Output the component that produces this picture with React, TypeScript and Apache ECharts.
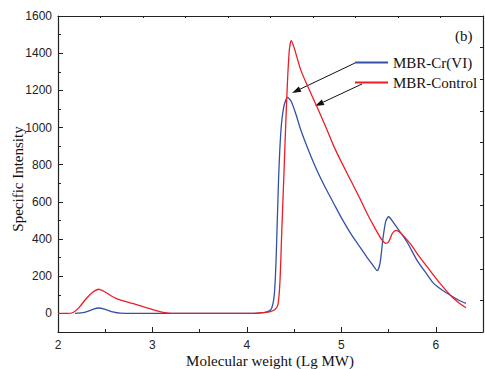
import React, { useEffect, useRef } from "react";
import * as echarts from "echarts";

const seriesNames = ["MBR-Cr(VI)", "MBR-Control"];
const xTickLabels = [2, 3, 4, 5, 6];
const yTickLabels = [0, 200, 400, 600, 800, 1000, 1200, 1400, 1600];
const yMinorTicks = [100, 300, 500, 700, 900, 1100, 1300, 1500];
const xTitle = "Molecular weight (Lg MW)";
const yTitle = "Specific Intensity";

const crData: [number, number][] = [
  [2.18, 0], [2.28, 5], [2.36, 20], [2.43, 29], [2.5, 22], [2.58, 8], [2.66, 1], [2.8, 0],
  [3.5, 0], [4.0, 0], [4.15, 3], [4.22, 10], [4.26, 25], [4.29, 100], [4.31, 300],
  [4.335, 717], [4.36, 980], [4.39, 1110], [4.43, 1162], [4.47, 1140], [4.52, 1070],
  [4.57, 988], [4.65, 880], [4.74, 771], [4.83, 677], [4.92, 591], [5.0, 515], [5.1, 429],
  [5.19, 362], [5.27, 303], [5.33, 262], [5.38, 230], [5.41, 270], [5.44, 400], [5.47, 495],
  [5.5, 520], [5.55, 490], [5.62, 440], [5.7, 380], [5.8, 287], [5.9, 215], [5.98, 160],
  [6.07, 125], [6.16, 96], [6.24, 72], [6.32, 54],
];

const controlData: [number, number][] = [
  [2.0, 0], [2.1, 0], [2.16, 5], [2.22, 30], [2.3, 80], [2.37, 115], [2.43, 130], [2.5, 115],
  [2.56, 95], [2.62, 80], [2.7, 66], [2.8, 52], [2.9, 36], [2.98, 24], [3.06, 12], [3.13, 4],
  [3.2, 0], [3.5, 0], [4.0, 0], [4.15, 3], [4.25, 10], [4.3, 22], [4.33, 50], [4.35, 170],
  [4.37, 450], [4.39, 720], [4.41, 1000], [4.43, 1250], [4.45, 1420], [4.47, 1468],
  [4.5, 1430], [4.57, 1310], [4.65, 1215], [4.73, 1125], [4.83, 1010], [4.92, 900],
  [5.0, 815], [5.1, 715], [5.19, 625], [5.27, 540], [5.36, 455], [5.43, 395], [5.47, 377],
  [5.5, 385], [5.54, 430], [5.58, 447], [5.63, 432], [5.73, 375], [5.82, 310], [5.91, 250],
  [6.0, 190], [6.09, 135], [6.17, 90], [6.25, 55], [6.32, 30],
];

const BLUE = "#3352A6";
const RED = "#EE1C25";
const AXIS = "#222";

function arrow(x1: number, y1: number, x2: number, y2: number) {
  const dx = x2 - x1;
  const dy = y2 - y1;
  const len = Math.sqrt(dx * dx + dy * dy);
  const ux = dx / len;
  const uy = dy / len;
  const hl = 9;
  const hw = 3;
  const bx = x2 - ux * hl;
  const by = y2 - uy * hl;
  return [
    {
      type: "line",
      shape: { x1, y1, x2: bx, y2: by },
      style: { stroke: "#111", lineWidth: 1 },
    },
    {
      type: "polygon",
      shape: {
        points: [
          [x2, y2],
          [bx - uy * hw, by + ux * hw],
          [bx + uy * hw, by - ux * hw],
        ],
      },
      style: { fill: "#111" },
    },
  ];
}

export default function App() {
  const ref = useRef<HTMLDivElement>(null);
  useEffect(() => {
    if (!ref.current) return;
    const chart = echarts.init(ref.current, undefined, { renderer: "svg" });
    const labelFont = {
      fontFamily: "Liberation Sans",
      fontSize: 12,
      color: AXIS,
      formatter: (v: number) => String(v),
    };
    chart.setOption({
      animation: false,
      grid: {
        left: 58,
        right: 2,
        top: 16,
        bottom: 37,
        containLabel: false,
        outerBoundsMode: "none",
      },
      legend: {
        data: seriesNames,
        orient: "vertical",
        left: 355,
        top: 54,
        itemWidth: 33,
        itemHeight: 2,
        itemGap: 3,
        icon: "rect",
        textStyle: {
          fontFamily: "Liberation Serif",
          fontSize: 15,
          color: "#111",
          lineHeight: 17,
          padding: [0, 0, 0, 0],
        },
        padding: 0,
      },
      xAxis: [
        {
          type: "value",
          position: "bottom",
          min: 2,
          max: 6.5,
          interval: 1,
          axisLine: { show: true, onZero: false, lineStyle: { color: AXIS, width: 1.2 } },
          axisTick: { show: true, inside: true, length: 5, lineStyle: { color: AXIS } },
          minorTick: { show: true, splitNumber: 2, length: 3, lineStyle: { color: AXIS } },
          axisLabel: { ...labelFont, margin: 7, customValues: xTickLabels },
          splitLine: { show: false },
        },
        {
          type: "value",
          position: "top",
          min: 0,
          max: 10,
          interval: 1,
          axisLine: { show: true, onZero: false, lineStyle: { color: AXIS, width: 1.2 } },
          axisTick: { show: true, inside: true, length: 2, lineStyle: { color: AXIS } },
          axisLabel: { show: false },
          splitLine: { show: false },
        },
      ],
      yAxis: [
        {
          type: "value",
          position: "left",
          min: -100,
          max: 1600,
          interval: 100,
          axisLine: { show: true, onZero: false, lineStyle: { color: AXIS, width: 1.2 } },
          axisTick: {
            show: true,
            inside: true,
            length: 5,
            customValues: yTickLabels,
            lineStyle: { color: AXIS },
          },
          axisLabel: { ...labelFont, margin: 6, customValues: yTickLabels },
          splitLine: { show: false },
        },
        {
          type: "value",
          position: "right",
          min: 0,
          max: 10,
          interval: 1,
          axisLine: { show: true, onZero: false, lineStyle: { color: AXIS, width: 1.2 } },
          axisTick: { show: true, inside: true, length: 3, lineStyle: { color: AXIS } },
          axisLabel: { show: false },
          splitLine: { show: false },
        },
        {
          type: "value",
          position: "left",
          min: -100,
          max: 1600,
          interval: 100,
          axisLine: { show: false },
          axisTick: {
            show: true,
            inside: true,
            length: 3,
            customValues: yMinorTicks,
            lineStyle: { color: AXIS },
          },
          axisLabel: { show: false },
          splitLine: { show: false },
        },
      ],
      series: [
        {
          name: seriesNames[0],
          type: "line",
          xAxisIndex: 0,
          yAxisIndex: 0,
          data: crData,
          showSymbol: false,
          symbol: "none",
          smooth: 0.25,
          lineStyle: { color: BLUE, width: 1.3 },
          itemStyle: { color: BLUE },
        },
        {
          name: seriesNames[1],
          type: "line",
          xAxisIndex: 0,
          yAxisIndex: 0,
          data: controlData,
          showSymbol: false,
          symbol: "none",
          smooth: 0.25,
          lineStyle: { color: RED, width: 1.3 },
          itemStyle: { color: RED },
        },
      ],
      graphic: [
        {
          type: "text",
          left: 455,
          top: 28,
          style: { text: "(b)", fontFamily: "Liberation Serif", fontSize: 15, fill: "#111" },
        },
        {
          type: "text",
          x: 270,
          y: 361,
          style: {
            text: xTitle,
            fontFamily: "Liberation Serif",
            fontSize: 15,
            fill: "#111",
            align: "center",
            verticalAlign: "middle",
          },
        },
        {
          type: "text",
          x: 18,
          y: 179,
          rotation: Math.PI / 2,
          style: {
            text: yTitle,
            fontFamily: "Liberation Serif",
            fontSize: 15,
            fill: "#111",
            align: "center",
            verticalAlign: "middle",
          },
        },
        ...arrow(355, 63, 292, 93),
        ...arrow(362, 84, 315, 106),
      ],
    });
    return () => chart.dispose();
  }, []);
  return (
    <div
      ref={ref}
      style={{ position: "absolute", left: 0, top: 0, width: 485, height: 369 }}
    />
  );
}
